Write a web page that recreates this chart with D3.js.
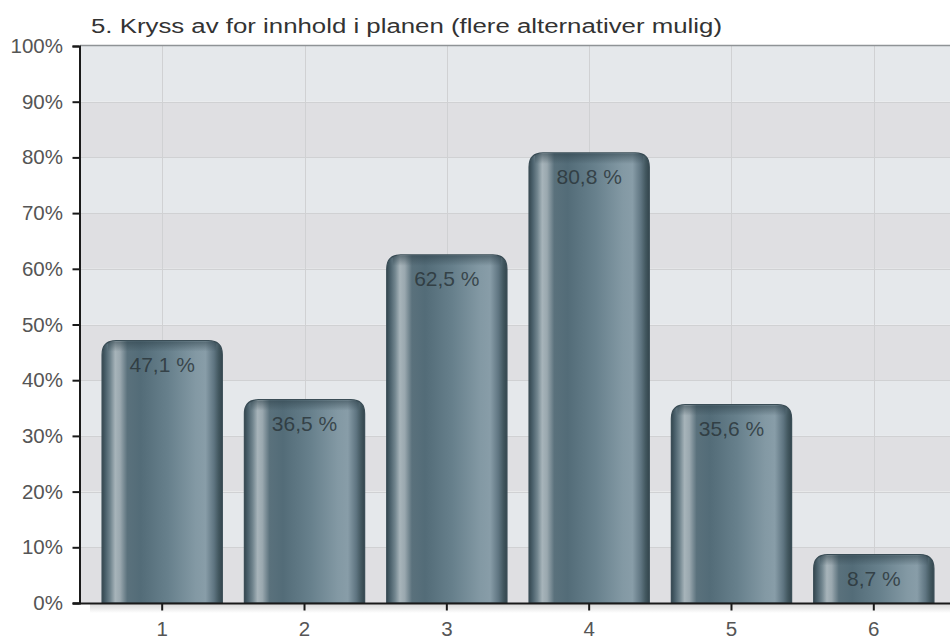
<!DOCTYPE html>
<html>
<head>
<meta charset="utf-8">
<script src="https://cdn.jsdelivr.net/npm/d3@7"></script>
<style>
  html, body { margin: 0; padding: 0; background: #fff; }
  svg { display: block; font-family: "Liberation Sans", Arial, sans-serif; }
</style>
</head>
<body>
<svg id="chart" width="950" height="639"></svg>
<script>
// Survey question 5: share of respondents ticking each plan element
const chartTitle = "5. Kryss av for innhold i planen (flere alternativer mulig)";
const categories = ["1", "2", "3", "4", "5", "6"];
const values = [47.1, 36.5, 62.5, 80.8, 35.6, 8.7];
const valueLabels = ["47,1 %", "36,5 %", "62,5 %", "80,8 %", "35,6 %", "8,7 %"];
const yTicks = [0, 10, 20, 30, 40, 50, 60, 70, 80, 90, 100];

const svg = d3.select("#chart");
const margin = { left: 80, top: 46, bottom: 603, right: 956 };
const plotRight = 950;

const x = d3.scaleBand()
  .domain(categories)
  .range([margin.left, margin.right])
  .paddingInner(0.155)
  .paddingOuter(0.155);

const y = d3.scaleLinear()
  .domain([0, 100])
  .range([margin.bottom, margin.top]);

const defs = svg.append("defs");

// Horizontal cylinder-like shading for the bars
const grad = defs.append("linearGradient")
  .attr("id", "barGrad")
  .attr("x1", "0%").attr("x2", "100%").attr("y1", "0%").attr("y2", "0%");
[
  [0, "#34474f"], [0.03, "#4b616c"], [0.07, "#72868f"], [0.11, "#a7b4ba"],
  [0.15, "#9aa8af"], [0.21, "#5a717c"], [0.32, "#536c78"], [0.55, "#67808c"],
  [0.78, "#8399a4"], [0.86, "#889da8"], [0.93, "#5f7581"], [0.97, "#42575f"],
  [1, "#33454d"]
].forEach(([o, c]) => grad.append("stop").attr("offset", o).attr("stop-color", c));

// Soft darkening at the top of each bar
const topGrad = defs.append("linearGradient")
  .attr("id", "topGrad")
  .attr("x1", "0").attr("x2", "0").attr("y1", "0").attr("y2", "1");
topGrad.append("stop").attr("offset", 0).attr("stop-color", "#2f424b").attr("stop-opacity", 0.55);
topGrad.append("stop").attr("offset", 1).attr("stop-color", "#2f424b").attr("stop-opacity", 0);

// Faint shadow under the baseline
const shadowGrad = defs.append("linearGradient")
  .attr("id", "shadowGrad")
  .attr("x1", "0").attr("x2", "0").attr("y1", "0").attr("y2", "1");
shadowGrad.append("stop").attr("offset", 0).attr("stop-color", "#c8c8c8").attr("stop-opacity", 0.7);
shadowGrad.append("stop").attr("offset", 1).attr("stop-color", "#c8c8c8").attr("stop-opacity", 0);

const clip = defs.append("clipPath").attr("id", "plotClip");
clip.append("rect")
  .attr("x", margin.left).attr("y", margin.top - 2)
  .attr("width", plotRight - margin.left).attr("height", margin.bottom - margin.top + 2);

// Alternating horizontal bands
const bands = d3.range(0, 100, 10);
svg.append("g").selectAll("rect")
  .data(bands)
  .join("rect")
  .attr("x", margin.left)
  .attr("width", plotRight - margin.left)
  .attr("y", d => y(d + 10))
  .attr("height", d => y(d) - y(d + 10))
  .attr("fill", (d, i) => i % 2 === 0 ? "#dfdfe2" : "#e5e8eb");

// Grid lines
const grid = svg.append("g").attr("stroke", "#d0d1d3").attr("stroke-width", 1);
grid.selectAll("line.h")
  .data(yTicks.slice(1, -1))
  .join("line")
  .attr("class", "h")
  .attr("x1", margin.left).attr("x2", plotRight)
  .attr("y1", d => Math.round(y(d)) + 0.5).attr("y2", d => Math.round(y(d)) + 0.5);
grid.selectAll("line.v")
  .data(categories)
  .join("line")
  .attr("class", "v")
  .attr("x1", d => Math.round(x(d) + x.bandwidth() / 2) + 0.5)
  .attr("x2", d => Math.round(x(d) + x.bandwidth() / 2) + 0.5)
  .attr("y1", margin.top).attr("y2", margin.bottom);

// Top frame line
svg.append("line")
  .attr("x1", margin.left).attr("x2", plotRight)
  .attr("y1", margin.top - 0.5).attr("y2", margin.top - 0.5)
  .attr("stroke", "#8f9396").attr("stroke-width", 1.5);

// Shadow strip below the baseline
svg.append("rect")
  .attr("x", margin.left + 10)
  .attr("width", plotRight - margin.left - 10)
  .attr("y", margin.bottom + 1)
  .attr("height", 9)
  .attr("fill", "url(#shadowGrad)");

// Bars with rounded top corners
const r = 14;
function barPath(d, i) {
  const x0 = x(categories[i]), w = x.bandwidth();
  const y0 = y(d), y1 = y(0);
  const rr = Math.min(r, (y1 - y0));
  return `M${x0},${y1} L${x0},${y0 + rr} Q${x0},${y0} ${x0 + rr},${y0} ` +
         `L${x0 + w - rr},${y0} Q${x0 + w},${y0} ${x0 + w},${y0 + rr} L${x0 + w},${y1} Z`;
}

const barsG = svg.append("g").attr("clip-path", "url(#plotClip)");
barsG.selectAll("path.bar")
  .data(values)
  .join("path")
  .attr("class", "bar")
  .attr("d", barPath)
  .attr("fill", "url(#barGrad)")
  .attr("stroke", "#3a4d56")
  .attr("stroke-width", 1.2);

barsG.selectAll("rect.topshade")
  .data(values)
  .join("rect")
  .attr("class", "topshade")
  .attr("x", (d, i) => x(categories[i]) + 6)
  .attr("width", x.bandwidth() - 12)
  .attr("y", d => y(d) + 1)
  .attr("height", 10)
  .attr("fill", "url(#topGrad)");

// Value labels inside the bars
svg.append("g").selectAll("text")
  .data(values)
  .join("text")
  .attr("x", (d, i) => x(categories[i]) + x.bandwidth() / 2)
  .attr("y", d => y(d) + 31.5)
  .attr("text-anchor", "middle")
  .attr("font-size", 21)
  .attr("fill", "#283236")
  .attr("fill-opacity", 0.8)
  .text((d, i) => valueLabels[i]);

// Y axis
const yAxis = d3.axisLeft(y)
  .tickValues(yTicks)
  .tickSize(7)
  .tickPadding(9.5)
  .tickFormat(d => d + "%");
const yg = svg.append("g")
  .attr("transform", `translate(${margin.left - 0.5},0)`)
  .call(yAxis);
yg.select(".domain").attr("stroke", "#1a1a1a").attr("stroke-width", 2);
yg.selectAll(".tick line").attr("stroke", "#1a1a1a").attr("stroke-width", 2);
yg.selectAll(".tick text")
  .attr("font-size", 20.5)
  .attr("fill", "#555")
  .attr("font-family", "\"Liberation Sans\", Arial, sans-serif");

// X axis
const xAxis = d3.axisBottom(x).tickSize(7).tickPadding(11).tickSizeOuter(0);
const xg = svg.append("g")
  .attr("transform", `translate(0,${margin.bottom + 0.5})`)
  .call(xAxis);
xg.select(".domain").attr("stroke", "#1a1a1a").attr("stroke-width", 2)
  .attr("d", `M${margin.left - 7},0H${plotRight}`);
xg.selectAll(".tick line").attr("stroke", "#1a1a1a").attr("stroke-width", 2);
xg.selectAll(".tick text")
  .attr("font-size", 20.5)
  .attr("fill", "#555")
  .attr("font-family", "\"Liberation Sans\", Arial, sans-serif");

// Title, set in a wide face across the top
svg.append("text")
  .attr("x", 91)
  .attr("y", 33)
  .attr("font-size", 20)
  .attr("fill", "#333")
  .attr("textLength", 631)
  .attr("lengthAdjust", "spacingAndGlyphs")
  .text(chartTitle);
</script>
</body>
</html>
